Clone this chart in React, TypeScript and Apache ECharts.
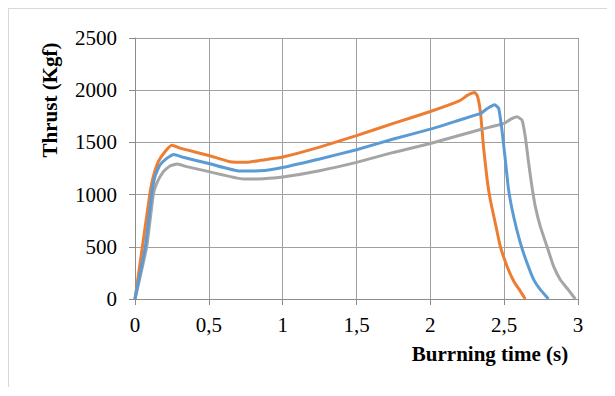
import React, { useEffect, useRef } from "react";
import * as echarts from "echarts";

const xTicks = [0, 0.5, 1, 1.5, 2, 2.5, 3];
const yTicks = [0, 500, 1000, 1500, 2000, 2500];

const orangeSeries: [number, number][] = [
  [0, 0], [0.05, 500], [0.1, 1000], [0.124, 1172], [0.158, 1315], [0.203, 1411],
  [0.25, 1472], [0.305, 1445], [0.4, 1410], [0.5, 1375], [0.644, 1315], [0.757, 1310],
  [0.85, 1328], [1.0, 1360], [1.25, 1455], [1.5, 1565], [1.75, 1682], [2.0, 1796],
  [2.2, 1900], [2.25, 1950], [2.3, 1978], [2.32, 1940], [2.34, 1780], [2.36, 1460],
  [2.385, 1140], [2.406, 950], [2.44, 726], [2.474, 503], [2.52, 312], [2.565, 170],
  [2.61, 73], [2.643, 0],
];

const blueSeries: [number, number][] = [
  [0, 0], [0.07, 500], [0.113, 1000], [0.135, 1172], [0.169, 1283], [0.215, 1347],
  [0.264, 1385], [0.327, 1357], [0.5, 1298], [0.711, 1226], [0.847, 1228], [1.0, 1260],
  [1.25, 1341], [1.5, 1430], [1.75, 1532], [2.0, 1627], [2.2, 1715], [2.34, 1777],
  [2.384, 1822], [2.436, 1860], [2.463, 1825], [2.485, 1618], [2.508, 1331], [2.53, 1045],
  [2.564, 790], [2.61, 535], [2.655, 344], [2.7, 185], [2.745, 89], [2.8, 0],
];

const graySeries: [number, number][] = [
  [0, 0], [0.079, 500], [0.124, 1000], [0.147, 1108], [0.192, 1220], [0.237, 1274],
  [0.287, 1293], [0.35, 1268], [0.5, 1220], [0.734, 1150], [0.869, 1152], [1.0, 1168],
  [1.25, 1229], [1.5, 1309], [1.75, 1404], [2.0, 1490], [2.34, 1624], [2.5, 1682],
  [2.542, 1720], [2.587, 1745], [2.621, 1714], [2.643, 1554], [2.666, 1300], [2.688, 1077],
  [2.711, 885], [2.745, 694], [2.79, 503], [2.835, 312], [2.88, 185], [2.925, 105],
  [2.982, 0],
];

const xTitle = "Burrning time (s)";
const yTitle = "Thrust (Kgf)";

const FONT = "Liberation Serif";

export default function App() {
  const ref = useRef<HTMLDivElement>(null);
  useEffect(() => {
    if (!ref.current) return;
    const chart = echarts.init(ref.current, null, { renderer: "svg" });
    const lineSeries = (data: [number, number][], color: string) => ({
      type: "line",
      data,
      smooth: 0.15,
      showSymbol: false,
      symbol: "none",
      lineStyle: { color, width: 3 },
      itemStyle: { color },
    });
    const labelStyle = {
      fontFamily: FONT,
      fontSize: 21,
      fontWeight: "normal",
      color: "#000",
    };
    chart.setOption({
      animation: false,
      backgroundColor: "#ffffff",
      textStyle: { fontFamily: FONT },
      grid: { left: 126, top: 29, right: 34, bottom: 88 },
      xAxis: {
        type: "value",
        min: xTicks[0],
        max: xTicks[xTicks.length - 1],
        interval: 0.5,
        axisLine: { show: true, lineStyle: { color: "#8c8c8c", width: 1 } },
        axisTick: { show: true, length: 6, lineStyle: { color: "#8c8c8c" } },
        splitLine: { show: true, lineStyle: { color: "#a0a0a0", width: 1 } },
        axisLabel: {
          margin: 15,
          ...labelStyle,
          formatter: (v: number) => String(v).replace(".", ","),
        },
      },
      yAxis: {
        type: "value",
        min: yTicks[0],
        max: yTicks[yTicks.length - 1],
        interval: 500,
        axisLine: { show: true, lineStyle: { color: "#8c8c8c", width: 1 } },
        axisTick: { show: true, length: 6, lineStyle: { color: "#8c8c8c" } },
        splitLine: { show: true, lineStyle: { color: "#a0a0a0", width: 1 } },
        axisLabel: {
          margin: 18,
          ...labelStyle,
          formatter: (v: number) => String(v),
        },
      },
      graphic: [
        {
          type: "text",
          x: 481,
          y: 345,
          style: {
            text: xTitle,
            fontFamily: FONT,
            fontWeight: "bold",
            fontSize: 21,
            fill: "#000",
            textAlign: "center",
            textVerticalAlign: "middle",
          },
        },
        {
          type: "text",
          x: 41,
          y: 91,
          rotation: Math.PI / 2,
          style: {
            text: yTitle,
            fontFamily: FONT,
            fontWeight: "bold",
            fontSize: 21,
            fill: "#000",
            textAlign: "center",
            textVerticalAlign: "middle",
          },
        },
      ],
      series: [
        lineSeries(orangeSeries, "#ED7D31"),
        lineSeries(graySeries, "#A5A5A5"),
        lineSeries(blueSeries, "#5B9BD5"),
      ],
    });
    return () => chart.dispose();
  }, []);
  return (
    <div
      style={{
        width: 603,
        height: 378,
        borderTop: "1px solid #d9d9d9",
        borderLeft: "1px solid #d9d9d9",
        borderRight: "1px solid #d9d9d9",
        background: "#fff",
      }}
    >
      <div ref={ref} style={{ width: 603, height: 378 }} />
    </div>
  );
}
